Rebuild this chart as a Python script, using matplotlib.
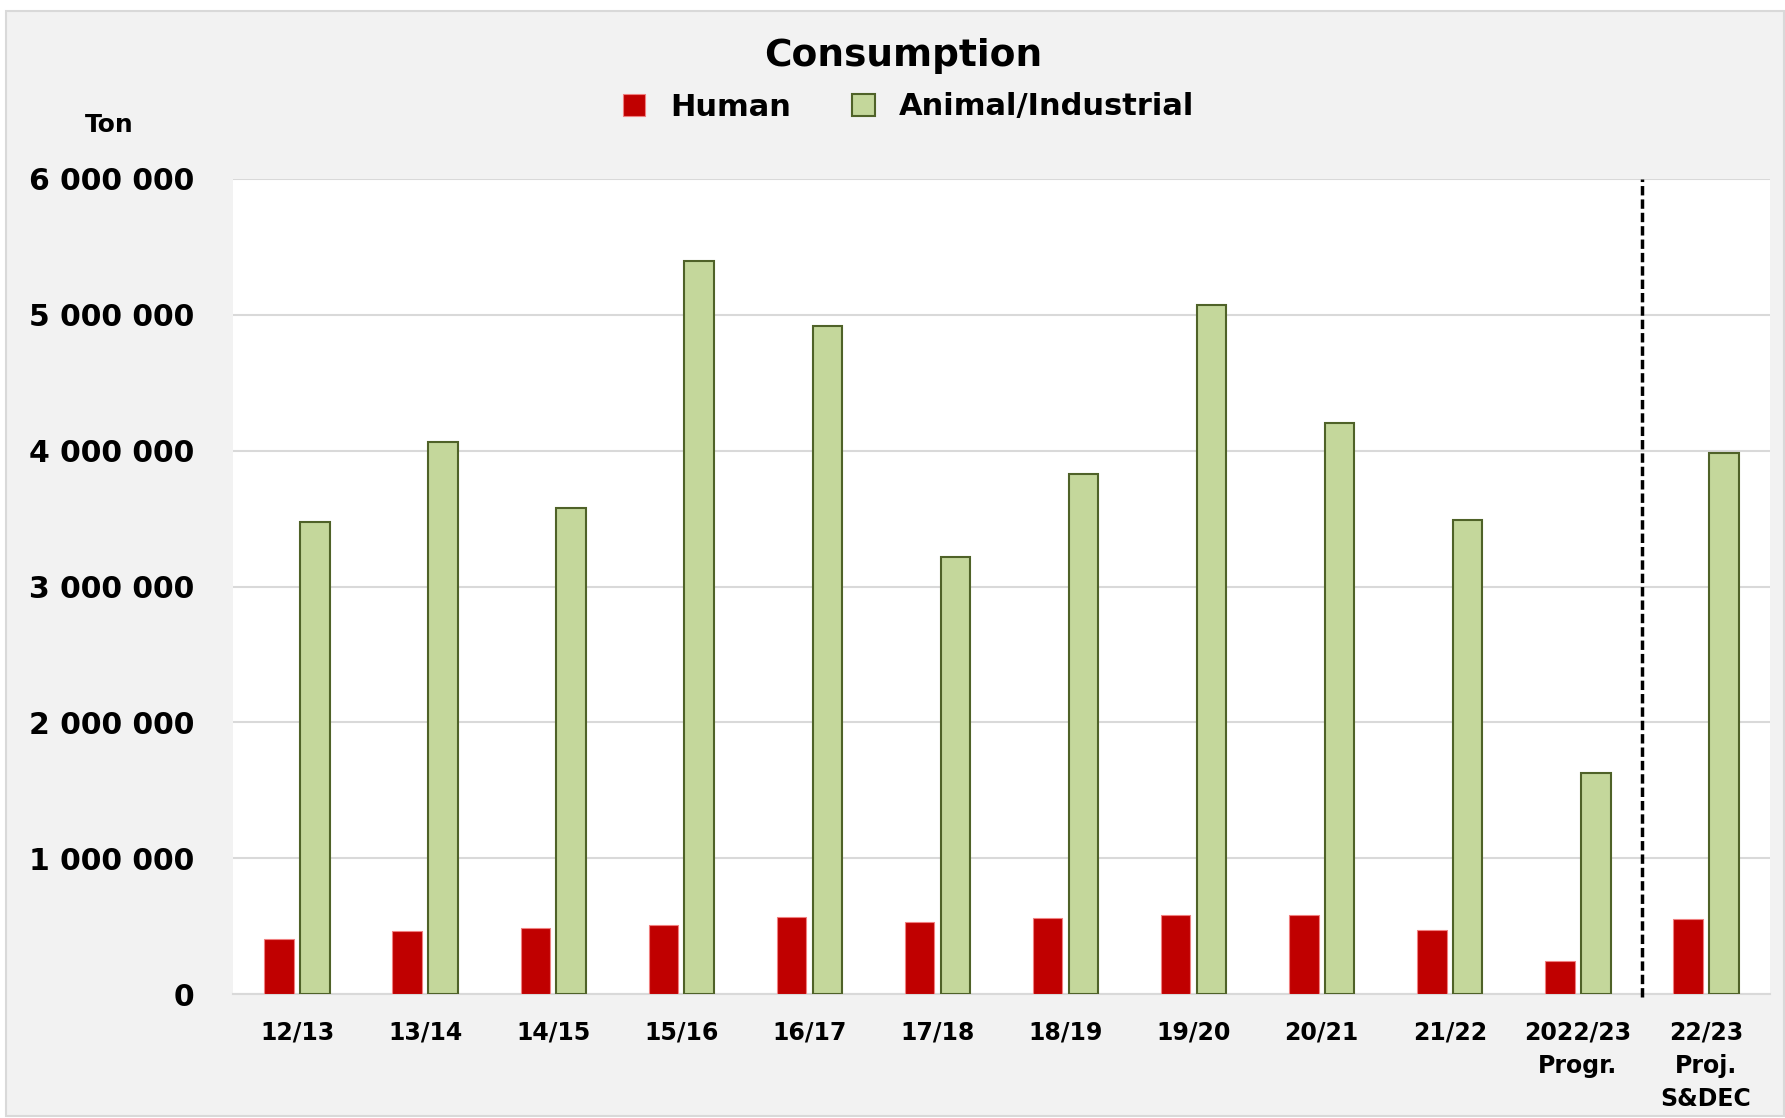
import matplotlib
matplotlib.use("Agg")
import matplotlib.pyplot as plt
import matplotlib.patches as mpatches
import numpy as np

# ─── Data ──────────────────────────────────────────────────────────────────────

seasons = ["12/13", "13/14", "14/15", "15/16", "16/17", "17/18", "18/19",
           "19/20", "20/21", "21/22", "2022/23\nProgr.", "22/23\nProj.\nS&DEC"]
human = [402000, 461000, 486000, 511000, 570000, 528000, 561000,
         578000, 578000, 469000, 243000, 553000]
animal_industrial = [3478000, 4064000, 3578000, 5397000, 4919000, 3218000,
                     3830000, 5070000, 4207000, 3486000, 1626000, 3980000]
y_ticks = [0, 1000000, 2000000, 3000000, 4000000, 5000000, 6000000]

RED = "#c00000"
GREEN = "#c4d79b"
GREEN_EDGE = "#4f6228"
GRID = "#d9d9d9"

plt.rcParams["font.family"] = "DejaVu Sans"
plt.rcParams["font.weight"] = "bold"

fig = plt.figure(figsize=(17.85, 11.18), dpi=100)
fig.patch.set_facecolor("white")
fig.patches.append(mpatches.Rectangle(
    (6 / 1785, 2 / 1118), 1 - 7 / 1785, 1 - 13 / 1118,
    transform=fig.transFigure, facecolor="#f2f2f2", edgecolor=GRID,
    linewidth=1.5, zorder=-10))

ax = fig.add_axes([233 / 1785, 1 - 994 / 1118, (1770 - 233) / 1785, (994 - 179) / 1118])
ax.set_zorder(1)
ax.set_facecolor("white")

x = np.arange(len(seasons))
w = 0.23
ax.bar(x - 0.14, human, w, color=RED, edgecolor="#f08080", linewidth=0.8,
       label="Human", zorder=3)
ax.bar(x + 0.14, animal_industrial, w, color=GREEN, edgecolor=GREEN_EDGE,
       linewidth=1.5, label="Animal/Industrial", zorder=3)

ax.set_xlim(-0.5, len(seasons) - 0.5)
ax.set_ylim(0, 6000000)
ax.set_yticks(y_ticks)
ax.set_yticklabels([f"{v:,.0f}".replace(",", " ") for v in y_ticks],
                   fontsize=21.5, fontweight="bold")
ax.set_xticks(x)
ax.set_xticklabels(seasons, fontsize=17, fontweight="bold", linespacing=1.5,
                   va="top")
ax.tick_params(axis="y", length=0, pad=28)
ax.tick_params(axis="x", length=0, pad=19)

ax.grid(axis="y", color=GRID, linewidth=1.5, zorder=0)
ax.set_axisbelow(True)
for s in ["top", "left", "right"]:
    ax.spines[s].set_visible(False)
ax.spines["bottom"].set_color(GRID)
ax.spines["bottom"].set_linewidth(1.5)

# separator between actuals and projection
ax.plot([10.5, 10.5], [-25000, 6000000], color="black", linewidth=2.5,
        dashes=(2.7, 1.15), zorder=4, clip_on=False)

fig.text(903 / 1785, 1 - 56 / 1118, "Consumption", ha="center", va="center",
         fontsize=27, fontweight="bold")
fig.text(109 / 1785, 1 - 125 / 1118, "Ton", ha="center", va="center",
         fontsize=18, fontweight="bold")

fig.legend(loc="center", bbox_to_anchor=(0.509, 1 - 107 / 1118), ncol=2,
           frameon=False, fontsize=22, handlelength=0.75, handleheight=0.75,
           handletextpad=0.8, columnspacing=2.0)

fig.savefig("out.png", dpi=100)
